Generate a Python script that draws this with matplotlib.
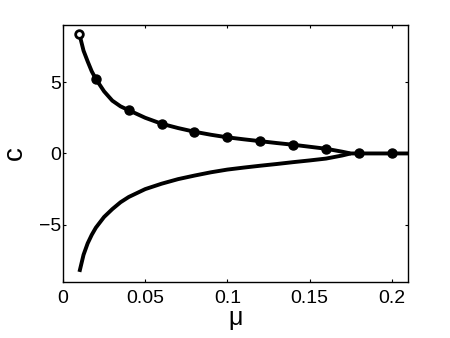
import matplotlib
matplotlib.use("Agg")
import matplotlib.pyplot as plt

# upper branch (line)
mu_up = [0.01, 0.0125, 0.015, 0.0175, 0.02, 0.025, 0.03, 0.035, 0.04, 0.05, 0.06,
         0.07, 0.08, 0.09, 0.1, 0.11, 0.12, 0.13, 0.14, 0.15, 0.16, 0.17, 0.175,
         0.18, 0.19, 0.2, 0.21]
c_up = [8.35, 7.2, 6.45, 5.75, 5.22, 4.35, 3.7, 3.3, 3.03, 2.5, 2.08,
        1.78, 1.52, 1.31, 1.13, 0.99, 0.86, 0.73, 0.61, 0.47, 0.33, 0.12, 0.0,
        0.0, 0.0, 0.0, 0.0]

# lower branch (line)
mu_low = [0.01, 0.0125, 0.015, 0.0175, 0.02, 0.025, 0.03, 0.035, 0.04, 0.05, 0.06,
          0.07, 0.08, 0.09, 0.1, 0.11, 0.12, 0.13, 0.14, 0.15, 0.16, 0.17, 0.175]
c_low = [-8.3, -7.1, -6.3, -5.7, -5.2, -4.45, -3.9, -3.42, -3.05, -2.5, -2.12,
         -1.8, -1.55, -1.32, -1.13, -0.99, -0.86, -0.74, -0.61, -0.49, -0.36, -0.14, 0.0]

# markers
mu_pts = [0.02, 0.04, 0.06, 0.08, 0.1, 0.12, 0.14, 0.16, 0.18, 0.2]
c_pts = [5.22, 3.03, 2.08, 1.52, 1.14, 0.86, 0.61, 0.33, 0.0, 0.0]
mu_open = [0.01]
c_open = [8.35]

plt.rcParams['font.family'] = ['Liberation Sans', 'DejaVu Sans']

fig = plt.figure(figsize=(4.5, 3.38), dpi=100)
ax = fig.add_axes([0.14, 0.166, 0.767, 0.76])

ax.plot(mu_up, c_up, color='black', lw=2.8, solid_capstyle='butt')
ax.plot(mu_low, c_low, color='black', lw=2.8, solid_capstyle='butt')
ax.plot(mu_pts, c_pts, 'o', color='black', ms=6.5)
ax.plot(mu_open, c_open, 'o', mfc='white', mec='black', mew=2, ms=5.5)

ax.set_xlim(0, 0.21)
ax.set_ylim(-9, 9)
ax.set_xticks([0, 0.05, 0.1, 0.15, 0.2])
ax.set_xticklabels(['0', '0.05', '0.1', '0.15', '0.2'])
ax.set_yticks([-5, 0, 5])
ax.tick_params(direction='in', length=2.5, width=0.8, top=True, right=True, labelsize=14)
ax.tick_params(axis='x', pad=6)
ax.tick_params(axis='y', pad=1.5)
for s in ax.spines.values():
    s.set_linewidth(1)

ax.set_xlabel('μ', fontsize=18, labelpad=-1)
ax.set_ylabel('c', fontsize=20, labelpad=8)

fig.savefig('out.png', dpi=100)
